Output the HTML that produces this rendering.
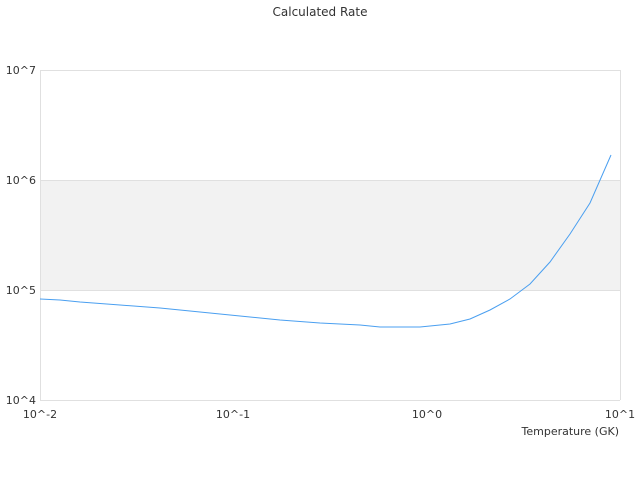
<!DOCTYPE html>
<html><head><style>
body{margin:0;background:#fff;}
svg text{font-family:"DejaVu Sans","Liberation Sans",sans-serif;fill:#333;}
</style></head><body>
<svg width="640" height="480" xmlns="http://www.w3.org/2000/svg">
<rect width="640" height="480" fill="#fff"/>
<text x="320" y="16" font-size="12" text-anchor="middle">Calculated Rate</text>
<rect x="40" y="180" width="580" height="110" fill="#f2f2f2"/>
<g stroke="#e0e0e0" stroke-width="1" fill="none">
<line x1="40" y1="70.5" x2="620" y2="70.5"/>
<line x1="40" y1="180.5" x2="620" y2="180.5"/>
<line x1="40" y1="290.5" x2="620" y2="290.5"/>
<line x1="40" y1="400.5" x2="620" y2="400.5"/>
<line x1="40.5" y1="70" x2="40.5" y2="400"/>
<line x1="620.5" y1="70" x2="620.5" y2="400"/>
</g>
<g font-size="11">
<text x="36" y="74" text-anchor="end">10^7</text>
<text x="36" y="184" text-anchor="end">10^6</text>
<text x="36" y="294" text-anchor="end">10^5</text>
<text x="36" y="404" text-anchor="end">10^4</text>
<text x="40" y="418" text-anchor="middle">10^-2</text>
<text x="233" y="418" text-anchor="middle">10^-1</text>
<text x="427" y="418" text-anchor="middle">10^0</text>
<text x="620" y="418" text-anchor="middle">10^1</text>
<text x="619" y="435" text-anchor="end">Temperature (GK)</text>
</g>
<polyline fill="none" stroke="#4a9ff0" stroke-width="1" points="40,299 60,300 80,302 120,305 160,308 200,312 240,316 280,320 320,323 360,325 380,327 420,327 450,324 470,319 490,310 510,299 530,284 550,262 570,234 590,203 611,155"/>
</svg>
</body></html>
